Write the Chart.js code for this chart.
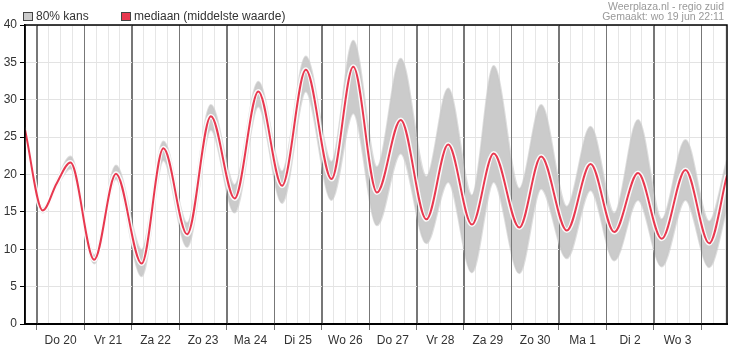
<!DOCTYPE html>
<html>
<head>
<meta charset="utf-8">
<script src="https://cdn.jsdelivr.net/npm/chart.js@4.4.1/dist/chart.umd.min.js"></script>
<style>
  body { margin: 0; background: #fff; }
  canvas { display: block; }
</style>
</head>
<body>
<canvas id="temp-chart" width="730" height="351"></canvas>
<script>
// hours counted from wo 19 jun 18:00, at the turning points of the curves
var hours  = [0, 9, 16, 23, 35, 46, 59, 70, 82, 94, 106, 118, 130, 142, 155, 166, 178, 190, 203, 214, 226, 237, 250, 261, 274, 286, 298, 310, 322, 334, 346, 355];
var median = [26, 15.2, 18.8, 21.6, 8.6, 20.1, 8.1, 23.5, 12.0, 27.8, 16.8, 31.1, 18.5, 34.0, 19.4, 34.4, 17.6, 27.3, 14.0, 24.0, 13.3, 22.8, 12.9, 22.4, 12.5, 21.4, 12.3, 20.2, 11.4, 20.6, 10.8, 19.9];
var upper  = [26.3, 15.5, 19.2, 22.4, 9.2, 21.2, 9.9, 24.4, 13.5, 29.3, 18.6, 32.4, 20.4, 35.8, 21.7, 37.9, 21.0, 35.5, 19.7, 31.5, 17.2, 34.5, 18.1, 29.3, 15.7, 26.4, 14.8, 27.3, 14.0, 24.6, 13.7, 21.9];
var lower  = [25.7, 14.9, 18.4, 20.8, 8.1, 19.4, 6.4, 21.9, 10.3, 26.0, 14.9, 29.1, 16.2, 31.1, 16.6, 28.2, 13.2, 22.8, 10.8, 19.0, 6.9, 19.0, 6.8, 18.1, 8.8, 17.9, 8.5, 16.6, 7.7, 16.6, 7.6, 15.5];
var dayLabels = ['Do 20', 'Vr 21', 'Za 22', 'Zo 23', 'Ma 24', 'Di 25', 'Wo 26', 'Do 27', 'Vr 28', 'Za 29', 'Zo 30', 'Ma 1', 'Di 2', 'Wo 3'];

var FONT = 'Arial, "Liberation Sans", sans-serif';
var RED = '#e8384f';
var BAND = '#cbcbcb';
var X_MAX = 355;

function toPoints(arr) {
    return hours.map(function (h, i) { return { x: h, y: arr[i] }; });
}

// midnight lines: 6 hours after the start, then every 24
function isMidnight(v) {
    return (v - 6) % 24 === 0;
}

var extras = {
    id: 'extras',
    afterDatasetDraw: function (chart, args) {
        // dark day lines stay visible on top of the grey band
        if (args.index !== 2) return;
        var ctx = chart.ctx;
        var area = chart.chartArea;
        var xs = chart.scales.x;
        ctx.save();
        ctx.strokeStyle = '#777';
        ctx.lineWidth = 1;
        for (var h = 6; h < X_MAX; h += 24) {
            var x = Math.round(xs.getPixelForValue(h)) + 0.5;
            ctx.beginPath();
            ctx.moveTo(x, area.top);
            ctx.lineTo(x, area.bottom);
            ctx.stroke();
        }
        ctx.restore();
    },
    afterDraw: function (chart) {
        var ctx = chart.ctx;
        var area = chart.chartArea;
        ctx.save();
        // frame
        ctx.strokeStyle = '#000';
        ctx.lineWidth = 1.5;
        ctx.strokeRect(area.left, area.top, area.right - area.left, area.bottom - area.top);

        // legend
        ctx.font = '12px ' + FONT;
        ctx.textBaseline = 'alphabetic';
        ctx.textAlign = 'left';
        ctx.lineWidth = 1;
        ctx.fillStyle = BAND;
        ctx.fillRect(23.5, 12.5, 9, 8);
        ctx.strokeStyle = '#444';
        ctx.strokeRect(23.5, 12.5, 9, 8);
        ctx.fillStyle = '#333';
        ctx.fillText('80% kans', 36, 20);
        ctx.fillStyle = RED;
        ctx.fillRect(121.5, 12.5, 9, 8);
        ctx.strokeRect(121.5, 12.5, 9, 8);
        ctx.fillStyle = '#333';
        ctx.fillText('mediaan (middelste waarde)', 134, 20);

        // header right
        ctx.font = '10.5px ' + FONT;
        ctx.textAlign = 'right';
        ctx.fillStyle = '#999';
        ctx.fillText('Weerplaza.nl - regio zuid', 724, 10);
        ctx.fillText('Gemaakt: wo 19 jun 22:11', 724, 20);
        ctx.restore();
    }
};

var ctx = document.getElementById('temp-chart').getContext('2d');
// datasets with a lower index are drawn on top
var chart = new Chart(ctx, {
    type: 'line',
    data: {
        datasets: [{
            label: 'mediaan (middelste waarde)',
            data: toPoints(median),
            borderColor: RED,
            borderWidth: 2,
            fill: false,
            pointRadius: 0,
            cubicInterpolationMode: 'monotone'
        }, {
            label: 'rand',
            data: toPoints(median),
            borderColor: 'rgba(255,255,255,0.9)',
            borderWidth: 5,
            fill: false,
            pointRadius: 0,
            cubicInterpolationMode: 'monotone'
        }, {
            label: '80% kans laag',
            data: toPoints(lower),
            borderColor: 'rgba(200,200,200,0.6)',
            borderWidth: 2,
            fill: false,
            pointRadius: 0,
            cubicInterpolationMode: 'monotone'
        }, {
            label: '80% kans',
            data: toPoints(upper),
            borderColor: 'rgba(200,200,200,0.6)',
            borderWidth: 2,
            backgroundColor: BAND,
            fill: '-1',
            pointRadius: 0,
            cubicInterpolationMode: 'monotone'
        }]
    },
    options: {
        responsive: false,
        animation: false,
        layout: { padding: { top: 25, right: 3, left: 0, bottom: 0 } },
        plugins: {
            legend: { display: false },
            tooltip: { enabled: false }
        },
        scales: {
            x: {
                type: 'linear',
                min: 0,
                max: X_MAX,
                afterBuildTicks: function (scale) {
                    var t = [];
                    for (var h = 0; h <= X_MAX; h += 6) t.push({ value: h });
                    scale.ticks = t;
                },
                afterFit: function (scale) { scale.height = 27; },
                ticks: {
                    autoSkip: false,
                    maxRotation: 0,
                    padding: 3,
                    color: '#333',
                    font: { family: FONT, size: 12 },
                    callback: function (value) {
                        var d = (value - 18) / 24;
                        return (Number.isInteger(d) && dayLabels[d]) ? dayLabels[d] : '';
                    }
                },
                grid: {
                    color: function (c) {
                        return c.tick && isMidnight(c.tick.value) ? '#777' : '#e6e6e6';
                    },
                    tickColor: function (c) {
                        return c.tick && isMidnight(c.tick.value) ? '#777' : 'rgba(0,0,0,0)';
                    },
                    tickLength: 6,
                    lineWidth: 1
                },
                border: { color: '#000', width: 2 }
            },
            y: {
                min: 0,
                max: 40,
                afterFit: function (scale) { scale.width = 25; },
                ticks: {
                    stepSize: 5,
                    padding: 3,
                    color: '#333',
                    font: { family: FONT, size: 12 }
                },
                grid: {
                    color: '#e3e3e3',
                    tickColor: '#000',
                    tickLength: 5,
                    lineWidth: 1
                },
                border: { color: '#000', width: 1.5 }
            }
        }
    },
    plugins: [extras]
});
</script>
</body>
</html>
